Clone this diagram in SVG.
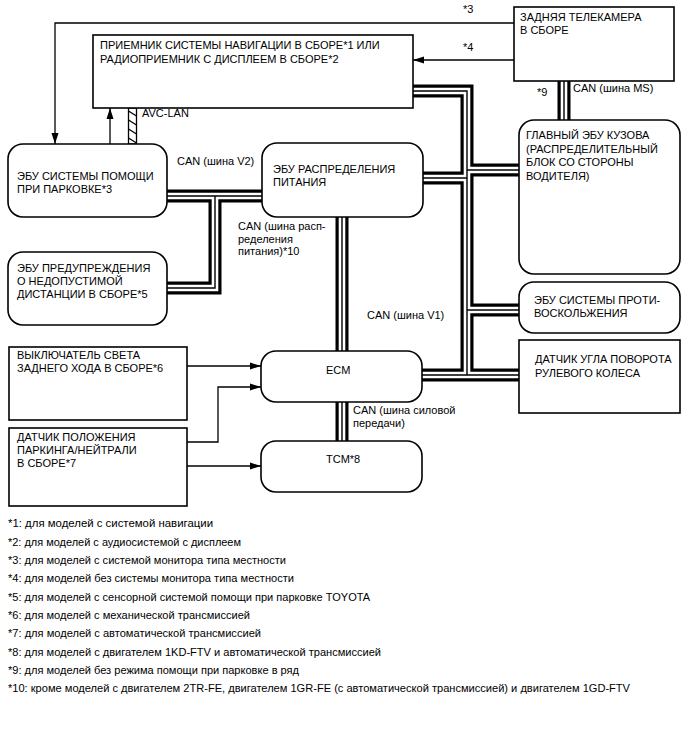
<svg xmlns="http://www.w3.org/2000/svg" xmlns:xlink="http://www.w3.org/1999/xlink" width="688" height="755" viewBox="0 0 688 755">
<style>
text{font-family:"Liberation Sans",Arial,sans-serif;font-size:11px;fill:#000}
.fn{font-size:10.5px}
.box{fill:#fff;stroke:#000;stroke-width:1.6}
.ln{fill:none;stroke:#000;stroke-width:1.3}
.bo{stroke:#000;stroke-width:13;fill:none}
.bw{stroke:#fff;stroke-width:6.6;fill:none}
.bc{stroke:#000;stroke-width:1.4;fill:none}
</style>
<defs>
<marker id="ah" markerUnits="userSpaceOnUse" markerWidth="12" markerHeight="8" refX="11" refY="4" orient="auto">
<path d="M0,0.5 L11,4 L0,7.5 Z" fill="#000"/>
</marker>
<path id="b1" d="M413,91 H467 V375"/>
<path id="b2" d="M423,178 H467"/>
<path id="b3" d="M467,170 H519"/>
<path id="b4" d="M467,310 H519"/>
<path id="b5" d="M422,375 H519"/>
<path id="b6" d="M342,217 V351"/>
<path id="b7" d="M342,402 V441"/>
<path id="b8" d="M167,196 H262"/>
<path id="b9" d="M215,196 V288 H167"/>
<path id="b10" d="M564,81 V120"/>
</defs>
<rect width="688" height="755" fill="#fff"/>
<g id="connectors">
<g class="bo"><use xlink:href="#b1"/><use xlink:href="#b2"/><use xlink:href="#b3"/><use xlink:href="#b4"/><use xlink:href="#b5"/><use xlink:href="#b6"/><use xlink:href="#b7"/><use xlink:href="#b8"/><use xlink:href="#b9"/><use xlink:href="#b10"/></g>
<g class="bw"><use xlink:href="#b1"/><use xlink:href="#b2"/><use xlink:href="#b3"/><use xlink:href="#b4"/><use xlink:href="#b5"/><use xlink:href="#b6"/><use xlink:href="#b7"/><use xlink:href="#b8"/><use xlink:href="#b9"/><use xlink:href="#b10"/></g>
<g class="bc"><use xlink:href="#b1"/><use xlink:href="#b2"/><use xlink:href="#b3"/><use xlink:href="#b4"/><use xlink:href="#b5"/><use xlink:href="#b6"/><use xlink:href="#b7"/><use xlink:href="#b8"/><use xlink:href="#b9"/><use xlink:href="#b10"/></g>
<path class="ln" d="M514,23 H55 V144" marker-end="url(#ah)"/>
<path class="ln" d="M514,60 H413" marker-end="url(#ah)"/>
<path class="ln" d="M110,144 V108" marker-end="url(#ah)"/>
<g id="avc-lan">
<rect x="128.5" y="108" width="8" height="36" fill="#fff" stroke="#000" stroke-width="1.3"/>
<path class="ln" d="M128.5,111 L136.5,116 M128.5,120 L136.5,125 M128.5,129 L136.5,134 M128.5,138 L136.5,143"/>
</g>
<path class="ln" d="M187,366 H261" marker-end="url(#ah)"/>
<path class="ln" d="M187,442 H218 V387 H261" marker-end="url(#ah)"/>
<path class="ln" d="M187,466 H261" marker-end="url(#ah)"/>
<text x="463" y="13">*3</text>
<text x="463" y="51">*4</text>
<text x="537" y="95.5">*9</text>
<text x="573" y="92">CAN (шина MS)</text>
<text x="142" y="117">AVC-LAN</text>
<text x="177" y="165">CAN (шина V2)</text>
<text x="238" y="230">CAN (шина расп-</text>
<text x="238" y="242.5">ределения</text>
<text x="238" y="255">питания)*10</text>
<text x="367" y="319">CAN (шина V1)</text>
<text x="353" y="414">CAN (шина силовой</text>
<text x="353" y="427">передачи)</text>
</g>
<g id="nav">
<rect class="box" x="93" y="35" width="320" height="73"/>
<text x="100" y="49">ПРИЕМНИК СИСТЕМЫ НАВИГАЦИИ В СБОРЕ*1 ИЛИ</text>
<text x="100" y="62.5">РАДИОПРИЕМНИК С ДИСПЛЕЕМ В СБОРЕ*2</text>
</g>
<g id="camera">
<rect class="box" x="514" y="7" width="160" height="74"/>
<text x="520" y="20.5">ЗАДНЯЯ ТЕЛЕКАМЕРА</text>
<text x="520" y="34">В СБОРЕ</text>
</g>
<g id="parking-ecu">
<rect class="box" x="8" y="144" width="159" height="73" rx="15"/>
<text x="17" y="180">ЭБУ СИСТЕМЫ ПОМОЩИ</text>
<text x="17" y="193">ПРИ ПАРКОВКЕ*3</text>
</g>
<g id="power-ecu">
<rect class="box" x="262" y="143" width="161" height="74" rx="15"/>
<text x="273" y="173">ЭБУ РАСПРЕДЕЛЕНИЯ</text>
<text x="273" y="186">ПИТАНИЯ</text>
</g>
<g id="body-ecu">
<rect class="box" x="519" y="120" width="161" height="154" rx="15"/>
<text x="526" y="139">ГЛАВНЫЙ ЭБУ КУЗОВА</text>
<text x="526" y="152.5">(РАСПРЕДЕЛИТЕЛЬНЫЙ</text>
<text x="526" y="166">БЛОК СО СТОРОНЫ</text>
<text x="526" y="179.5">ВОДИТЕЛЯ)</text>
</g>
<g id="distance-ecu">
<rect class="box" x="8" y="252" width="159" height="73" rx="15"/>
<text x="17" y="272">ЭБУ ПРЕДУПРЕЖДЕНИЯ</text>
<text x="17" y="285">О НЕДОПУСТИМОЙ</text>
<text x="17" y="298">ДИСТАНЦИИ В СБОРЕ*5</text>
</g>
<g id="antiskid-ecu">
<rect class="box" x="519" y="282" width="161" height="51" rx="15"/>
<text x="534" y="304">ЭБУ СИСТЕМЫ ПРОТИ-</text>
<text x="534" y="317">ВОСКОЛЬЖЕНИЯ</text>
</g>
<g id="steering-sensor">
<rect class="box" x="519" y="340" width="161" height="73"/>
<text x="535" y="363">ДАТЧИК УГЛА ПОВОРОТА</text>
<text x="535" y="376.5">РУЛЕВОГО КОЛЕСА</text>
</g>
<g id="reverse-switch">
<rect class="box" x="9" y="347" width="178" height="73"/>
<text x="17" y="359">ВЫКЛЮЧАТЕЛЬ СВЕТА</text>
<text x="17" y="372">ЗАДНЕГО ХОДА В СБОРЕ*6</text>
</g>
<g id="ecm">
<rect class="box" x="261" y="351" width="161" height="51" rx="15"/>
<text x="326" y="374">ECM</text>
</g>
<g id="pn-sensor">
<rect class="box" x="9" y="428" width="178" height="78"/>
<text x="17" y="441">ДАТЧИК ПОЛОЖЕНИЯ</text>
<text x="17" y="454">ПАРКИНГА/НЕЙТРАЛИ</text>
<text x="17" y="467">В СБОРЕ*7</text>
</g>
<g id="tcm">
<rect class="box" x="261" y="441" width="161" height="51" rx="15"/>
<text x="326" y="463">TCM*8</text>
</g>
<g id="footnotes">
<text class="fn" x="8" y="527" textLength="205" lengthAdjust="spacingAndGlyphs">*1: для моделей с системой навигации</text>
<text class="fn" x="8" y="545.5" textLength="233" lengthAdjust="spacingAndGlyphs">*2: для моделей с аудиосистемой с дисплеем</text>
<text class="fn" x="8" y="564" textLength="278" lengthAdjust="spacingAndGlyphs">*3: для моделей с системой монитора типа местности</text>
<text class="fn" x="8" y="582" textLength="286" lengthAdjust="spacingAndGlyphs">*4: для моделей без системы монитора типа местности</text>
<text class="fn" x="8" y="600.5" textLength="362" lengthAdjust="spacingAndGlyphs">*5: для моделей с сенсорной системой помощи при парковке TOYOTA</text>
<text class="fn" x="8" y="619" textLength="242" lengthAdjust="spacingAndGlyphs">*6: для моделей с механической трансмиссией</text>
<text class="fn" x="8" y="637" textLength="253" lengthAdjust="spacingAndGlyphs">*7: для моделей с автоматической трансмиссией</text>
<text class="fn" x="8" y="655.5" textLength="373" lengthAdjust="spacingAndGlyphs">*8: для моделей с двигателем 1KD-FTV и автоматической трансмиссией</text>
<text class="fn" x="8" y="674" textLength="291" lengthAdjust="spacingAndGlyphs">*9: для моделей без режима помощи при парковке в ряд</text>
<text class="fn" x="8" y="692" textLength="622" lengthAdjust="spacingAndGlyphs">*10: кроме моделей с двигателем 2TR-FE, двигателем 1GR-FE (с автоматической трансмиссией) и двигателем 1GD-FTV</text>
</g>
</svg>
